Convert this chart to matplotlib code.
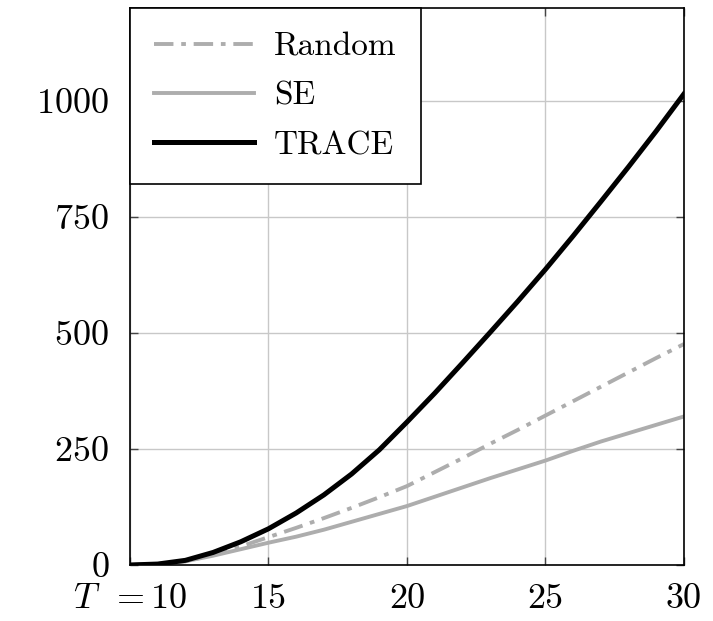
import matplotlib.pyplot as plt

plt.rcParams['font.family'] = 'cmr10'
plt.rcParams['mathtext.fontset'] = 'cm'
plt.rcParams['axes.formatter.use_mathtext'] = True

T = list(range(10, 31))
random_vals = [0, 2, 8, 22, 40, 60, 80, 101, 123, 146, 170, 200, 230, 261, 291, 322, 353, 384, 415, 446, 476]
se_vals = [0, 2, 8, 20, 34, 48, 61, 76, 93, 110, 127, 147, 167, 187, 206, 225, 246, 266, 284, 302, 320]
trace_vals = [0, 2, 10, 27, 50, 78, 112, 151, 196, 248, 308, 370, 435, 501, 568, 637, 709, 783, 858, 935, 1015]

xticks = [10, 15, 20, 25, 30]
xlabels = [r'$T\ \,=$10', '15', '20', '25', '30']
yticks = [0, 250, 500, 750, 1000]

fig = plt.figure(figsize=(7.13, 6.21), dpi=100)
ax = fig.add_axes([0.1823, 0.0902, 0.7770, 0.8969])

gray = '#adadad'
ax.plot(T, random_vals, color=gray, lw=2.8, linestyle=(0, (5, 2, 1.2, 2)),
        dash_capstyle='butt', label='Random')
ax.plot(T, se_vals, color=gray, lw=2.8, label='SE')
ax.plot(T, trace_vals, color='black', lw=3.6, label='TRACE')

ax.set_xlim(10, 30)
ax.set_ylim(0, 1200)
ax.set_xticks(xticks)
ax.set_xticklabels(xlabels)
ax.set_yticks(yticks)
ax.grid(True, color='#c8c8c8', lw=1.0)
ax.set_axisbelow(True)
ax.tick_params(direction='in', right=True, top=True, length=6, width=1,
               color='#444444', labelsize=26)
ax.tick_params(axis='y', pad=15)
ax.tick_params(axis='x', pad=13)
for s in ax.spines.values():
    s.set_linewidth(1.2)

leg = ax.legend(loc='upper left', borderaxespad=0, fancybox=False, framealpha=1,
                edgecolor='black', fontsize=24, handlelength=3.0, handletextpad=0.6,
                labelspacing=0.6, borderpad=0.72)
leg.get_frame().set_linewidth(1.2)

fig.savefig('out.png', dpi=100)
